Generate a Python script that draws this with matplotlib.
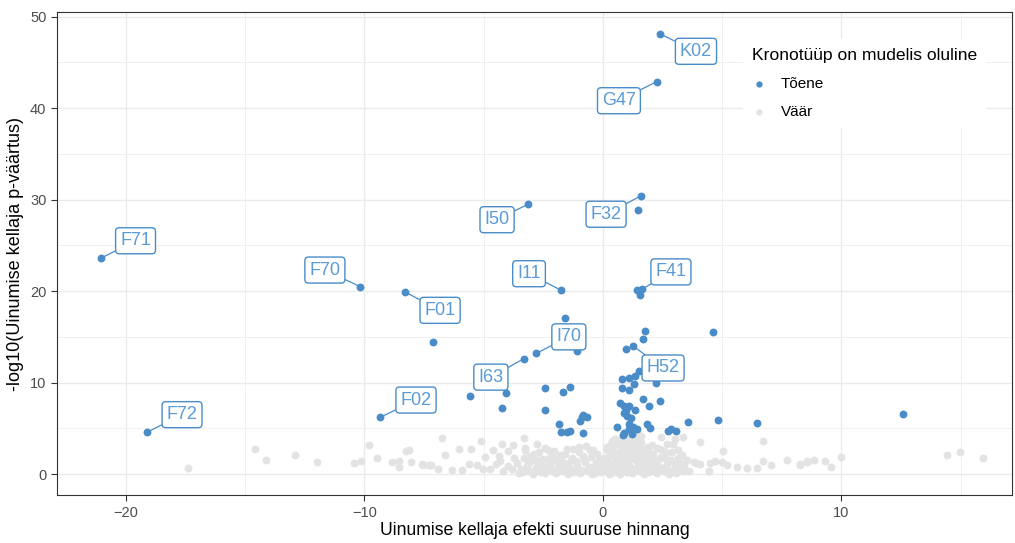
import matplotlib
matplotlib.use("Agg")
from matplotlib import pyplot as plt
from matplotlib.ticker import MultipleLocator

plt.rcParams["font.family"] = ["Liberation Sans", "DejaVu Sans"]

# oluliste kronotüüpide punktid (efekt, -log10 p)
sig_x = [2.39, 2.26, 1.59, 1.47, -3.14, -21.05, -10.19, -8.3, -1.76, 1.64, 1.43, 1.55,
         -7.13, -9.35, -19.1, -1.58, 1.76, 4.6, 1.66, 0.95, 1.26, -1.09, -2.8, -3.33,
         -4.07, -4.25, -5.58, -2.45, -1.66, -1.37, -2.45, -1.83, -1.77, -1.52, -1.38,
         -0.85, -0.96, -0.85, -0.66, -0.89, 1.5, 1.35, 1.1, 0.8, 1.31, 0.78, 1.1, 2.22,
         1.66, 1.93, 2.39, 0.71, 0.88, 1.1, 0.96, 1.33, 0.88, 0.99, 1.16, 1.08, 1.24,
         1.1, 0.88, 1.44, 0.57, 1.22, 0.85, 1.83, 1.97, 2.73, 2.84, 3.06, 3.58, 4.81,
         6.44, 12.57]
sig_y = [48.1, 42.9, 30.4, 28.9, 29.5, 23.6, 20.5, 19.9, 20.1, 20.2, 20.1, 19.6,
         14.4, 6.2, 4.6, 17.1, 15.6, 15.5, 14.8, 13.7, 14.0, 13.5, 13.2, 12.6,
         8.9, 7.2, 8.5, 9.4, 9.0, 9.55, 7.0, 5.5, 4.6, 4.6, 4.7,
         4.45, 5.8, 6.5, 6.2, 6.2, 11.3, 10.75, 10.5, 10.4, 9.8, 9.45, 9.2, 10.0,
         8.2, 7.5, 7.95, 7.8, 7.45, 7.5, 7.0, 7.0, 6.7, 6.35, 6.1, 5.5, 5.2,
         4.9, 4.5, 4.95, 5.2, 4.4, 4.3, 5.5, 5.0, 4.7, 4.9, 4.7, 5.65, 5.95,
         5.55, 6.6]

# mitteolulised punktid
ns_x = [-14.58, -14.12, -12.93, -12.01, -17.4, -10.44, -10.13, -9.83, -9.49, -8.85,
        -8.57, -8.15, -8.26, -8.06, -8.54, -6.75, -6.61, -6.03, -5.52, -5.13, -7.57,
        -7.28, -6.92, -6.33, -5.91, -5.63, -5.3, -5.02, -4.74, -4.6, -3.31, -4.23,
        -3.79, -3.98, -4.93, -4.38, -4.32, -2.78, -2.42, -3.26, -7.53, -7.2,
        2.42, 3.0, 3.34, 4.07, 6.72, 5.05, 2.7, 3.14, 3.51, 3.9, 4.07, 4.49, 4.71,
        4.99, 5.21, 5.6, 6.02, 6.44, 6.72, 7.06, 7.73, 8.26, 8.54, 4.43, 0.43, 0.71,
        1.13, 1.41, -0.41, 8.26, 8.56, 8.85, 9.3, 9.55, 9.97, 14.41, 14.97, 15.95,
        -3.6, -3.4, -3.3, -3.2, -3.1, -3.0, -2.9, -2.8, -2.7, -2.6, -2.5, -2.4, -2.3,
        -2.2, -2.1, -2.0, -1.9, -1.8, -1.7, -1.6, -1.5, -1.4, -1.3, -1.2, -1.1, -1.0,
        -0.9, -0.8, -0.7, -0.6, -0.5, -0.4, -0.3, -0.2, -0.1, 0.0,
        -3.5, -2.95, -2.45, -1.95, -1.45, -0.95, -0.45, -3.8, -4.0, -4.2, -4.5, -3.25,
        -2.05, -1.25, -0.85, -1.55, -2.65, -0.25, -1.75, -3.75,
        0.1, 0.2, 0.3, 0.35, 0.4, 0.5, 0.55, 0.6, 0.65, 0.7, 0.75, 0.8, 0.85, 0.9,
        0.95, 1.0, 1.05, 1.1, 1.15, 1.2, 1.25, 1.3, 1.35, 1.4, 1.45, 1.5, 1.55, 1.6,
        1.65, 1.7, 1.75, 1.8, 1.9, 2.0, 2.1, 2.2, 2.3, 2.4, 2.5, 2.6, 2.7, 2.8, 2.9,
        3.0, 3.1, 3.2, 3.3, 3.4, 3.6, 3.8,
        0.15, 0.45, 0.25, 0.7, 1.2, 1.7, 2.25, 2.75, 0.6, 1.0, 1.4, 1.85, 2.05, 2.45,
        0.9, 1.05, 0.3, 1.55, 2.65, 3.05]
ns_y = [2.7, 1.6, 2.05, 1.3, 0.65, 1.25, 1.4, 3.15, 1.75, 1.3,
        1.45, 2.6, 2.5, 1.3, 0.8, 4.0, 2.1, 2.8, 2.8, 3.6, 1.1,
        0.95, 0.6, 0.5, 0.5, 1.1, 0.95, 0.6, 0.6, 2.6, 3.9, 3.3,
        3.15, 2.55, 1.9, 2.0, 1.4, 3.3, 2.85, 2.6, 1.0, 1.0,
        4.1, 3.8, 4.1, 3.5, 3.65, 2.55, 3.35, 1.8, 1.55, 1.25, 1.1, 1.25, 1.45,
        1.3, 1.0, 0.8, 0.65, 0.65, 1.4, 1.0, 1.6, 1.0, 1.3, 0.3, 3.0, 3.7,
        4.1, 3.7, 2.6, 1.1, 1.4, 1.55, 1.45, 0.8, 1.9, 2.05, 2.4, 1.75,
        1.2, 0.5, 1.8, 0.9, 0.3, 1.4, 2.2, 0.7, 1.1, 0.2, 1.7, 0.6, 2.6,
        1.0, 0.4, 1.5, 0.8, 2.1, 0.3, 1.2, 2.8, 0.6, 1.8, 0.2, 1.0, 2.4,
        0.5, 1.5, 3.1, 0.8, 1.9, 0.3, 1.2, 0.6, 0.2, 0.9,
        0.1, 0.0, 0.1, 0.1, 0.0, 0.1, 0.0, 0.6, 0.9, 0.4, 1.1, 2.9,
        2.5, 2.7, 2.0, 0.4, 1.6, 2.2, 1.6, 1.8,
        0.4, 1.3, 2.0, 0.1, 2.8, 0.7, 1.6, 3.4, 0.3, 2.4, 1.1, 3.9, 0.5, 1.9,
        2.9, 0.2, 1.4, 3.6, 0.8, 2.5, 4.0, 0.4, 1.8, 3.1, 1.0, 2.2, 0.3, 3.5,
        1.3, 2.7, 0.6, 1.9, 3.0, 0.9, 2.2, 0.4, 1.5, 2.8, 0.7, 1.8, 1.1, 0.3, 2.4,
        0.9, 1.6, 0.5, 2.1, 1.0, 0.4, 1.3,
        2.6, 1.0, 0.0, 0.0, 0.1, 0.0, 0.1, 0.0, 2.0, 2.6, 1.5, 1.2, 3.2, 1.9,
        4.5, 4.3, 3.2, 2.7, 0.2, 0.1]

# tihe pilv nulli ümber (lisapunktid)
ns2_x = [-3.45, -3.15, -2.85, -2.55, -2.25, -1.95, -1.65, -1.35, -1.05, -0.75, -0.45, -0.15,
         -3.35, -3.05, -2.75, -2.35, -2.15, -1.85, -1.45, -1.15, -0.65, -0.35, -0.05,
         0.05, 0.25, 0.45, 0.65, 0.85, 1.05, 1.25, 1.45, 1.65, 1.85, 2.05, 2.25, 2.45,
         2.65, 2.85, 3.15, 3.35,
         0.15, 0.35, 0.55, 0.75, 0.95, 1.15, 1.35, 1.55, 1.75, 1.95, 2.15, 2.35, 2.55,
         2.95, 3.25,
         0.5, 0.8, 1.1, 1.3, 1.6, 1.9, 0.4, 1.0, 1.45, -0.55, -1.0, -1.6, -2.2, -2.7]
ns2_y = [0.6, 1.1, 0.4, 0.9, 1.3, 0.5, 1.0, 1.6, 0.4, 1.3, 0.8, 1.6,
         0.2, 2.0, 1.4, 0.3, 2.0, 1.2, 1.0, 1.4, 0.5, 0.1, 1.4,
         1.8, 0.6, 2.3, 1.3, 2.6, 1.0, 1.7, 2.5, 0.6, 2.4, 1.6, 2.9, 0.5,
         2.3, 1.5, 2.6, 0.3,
         3.0, 0.8, 0.2, 3.1, 0.6, 2.2, 0.6, 1.7, 2.3, 0.2, 1.2, 0.8, 2.5,
         3.3, 1.2,
         3.8, 3.0, 2.9, 3.3, 4.2, 2.6, 3.6, 3.5, 4.4, 2.6, 3.0, 2.2, 1.9, 2.4]

# sildid: kood, punkt ja sildi asukoht
lab_text = ["K02", "G47", "F32", "I50", "F71", "F70", "F01", "I11", "F41",
            "I70", "H52", "I63", "F02", "F72"]
lab_px = [2.39, 2.26, 1.59, -3.14, -21.05, -10.19, -8.3, -1.76, 1.64,
          -2.8, 1.26, -3.33, -9.35, -19.1]
lab_py = [48.1, 42.9, 30.4, 29.5, 23.6, 20.5, 19.9, 20.1, 20.2,
          13.2, 14.0, 12.6, 6.2, 4.6]
lab_tx = [3.9, 0.67, 0.13, -4.44, -19.6, -11.66, -6.83, -3.1, 2.85,
          -1.43, 2.52, -4.7, -7.84, -17.65]
lab_ty = [46.2, 40.8, 28.4, 27.8, 25.5, 22.3, 17.9, 21.9, 22.1,
          15.0, 11.6, 10.6, 8.1, 6.5]

sinine = "#4A8CC8"
hall = "#E3E3E3"

fig = plt.figure(figsize=(10.15, 5.43), dpi=100)
ax = fig.add_axes([0.056, 0.088, 0.941, 0.89])

ax.scatter(ns_x + ns2_x, ns_y + ns2_y, s=32, color=hall, linewidths=0, zorder=2, label="Väär")
ax.scatter(sig_x, sig_y, s=32, color=sinine, linewidths=0, zorder=3, label="Tõene")

for t, px, py, tx, ty in zip(lab_text, lab_px, lab_py, lab_tx, lab_ty):
    ax.annotate(t, xy=(px, py), xytext=(tx, ty), ha="center", va="center",
                fontsize=13, color="#5B9BD5", zorder=4,
                bbox=dict(boxstyle="round,pad=0.25,rounding_size=0.2",
                          fc="white", ec=sinine, lw=1),
                arrowprops=dict(arrowstyle="-", color=sinine, lw=0.9,
                                shrinkA=0, shrinkB=2))

ax.set_xlim(-22.9, 17.15)
ax.set_ylim(-2.3, 50.5)
ax.xaxis.set_major_locator(MultipleLocator(10))
ax.xaxis.set_minor_locator(MultipleLocator(5))
ax.yaxis.set_major_locator(MultipleLocator(10))
ax.yaxis.set_minor_locator(MultipleLocator(5))
ax.grid(which="major", color="#EBEBEB", lw=1, zorder=0)
ax.grid(which="minor", color="#F0F0F0", lw=0.7, zorder=0)
ax.set_axisbelow(True)
ax.tick_params(which="major", labelsize=10.5, labelcolor="#4D4D4D", color="#333333", length=4)
ax.tick_params(which="minor", length=0)
for sp in ax.spines.values():
    sp.set_color("#333333")

ax.set_xlabel("Uinumise kellaja efekti suuruse hinnang", fontsize=12.7, labelpad=2)
ax.set_ylabel("-log10(Uinumise kellaja p-väärtus)", fontsize=13, labelpad=4)

h, l = ax.get_legend_handles_labels()
leg = ax.legend(h[::-1], l[::-1], title="Kronotüüp on mudelis oluline",
                loc="upper left", bbox_to_anchor=(0.71, 0.96),
                frameon=True, facecolor="white", edgecolor="none", framealpha=1,
                fontsize=11, title_fontsize=12.6, markerscale=0.8,
                handlelength=1.0, handletextpad=0.9, labelspacing=0.9, borderpad=0.6)
leg._legend_box.align = "left"
leg.set_zorder(5)

plt.savefig("out.png", dpi=100)
